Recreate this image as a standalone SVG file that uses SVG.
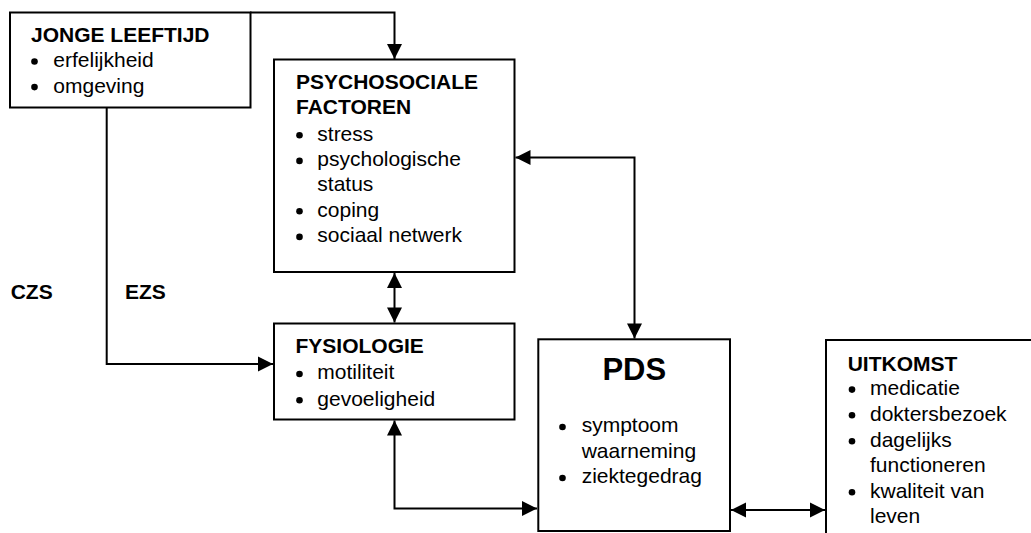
<svg xmlns="http://www.w3.org/2000/svg" width="1031" height="533" viewBox="0 0 1031 533">
<style>
.box{fill:#fff;stroke:#000;stroke-width:2}
.t{font-family:"Liberation Sans",Arial,sans-serif;font-size:21px;fill:#000}
.b{font-weight:bold}
.big{font-size:31px}
.conn{fill:none;stroke:#000;stroke-width:2}
</style>
<defs>
<marker id="ah" markerUnits="userSpaceOnUse" markerWidth="17" markerHeight="17" viewBox="0 0 17 17" refX="16" refY="8.5" orient="auto-start-reverse">
<path d="M1,1 L16,8.5 L1,16 Z" fill="#000"/>
</marker>
<circle id="dot" r="3.3" fill="#000"/>
</defs>
<rect width="1031" height="533" fill="#fff"/>
<g id="connectors">
<path class="conn" d="M250,12.5 H394.5 V59" marker-end="url(#ah)"/>
<path class="conn" d="M106.7,107 V364 H273" marker-end="url(#ah)"/>
<path class="conn" d="M394.5,273 V322.5" marker-start="url(#ah)" marker-end="url(#ah)"/>
<path class="conn" d="M394.5,420.5 V508.5 H537" marker-start="url(#ah)" marker-end="url(#ah)"/>
<path class="conn" d="M515.5,157.5 H634.5 V338.5" marker-start="url(#ah)" marker-end="url(#ah)"/>
<path class="conn" d="M731,510 H825" marker-start="url(#ah)" marker-end="url(#ah)"/>
</g>
<g id="jonge">
<rect class="box" x="10" y="12.5" width="240.5" height="95"/>
<text class="t b" x="31" y="41.7">JONGE LEEFTIJD</text>
<use href="#dot" x="34.5" y="61.5"/>
<text class="t" x="53.3" y="66.9">erfelijkheid</text>
<use href="#dot" x="34.5" y="87.1"/>
<text class="t" x="53.3" y="92.5">omgeving</text>
</g>
<g id="psycho">
<rect class="box" x="274" y="59.5" width="240.5" height="212.5"/>
<text class="t b" x="296" y="89.3">PSYCHOSOCIALE</text>
<text class="t b" x="296" y="114.3">FACTOREN</text>
<use href="#dot" x="299.5" y="135.3"/>
<text class="t" x="317.3" y="140.7">stress</text>
<use href="#dot" x="299.5" y="160.9"/>
<text class="t" x="317.3" y="166.3">psychologische</text>
<text class="t" x="317.3" y="190.9">status</text>
<use href="#dot" x="299.5" y="211.3"/>
<text class="t" x="317.3" y="216.7">coping</text>
<use href="#dot" x="299.5" y="236.9"/>
<text class="t" x="317.3" y="242.3">sociaal netwerk</text>
</g>
<text class="t b" x="10.7" y="298.6">CZS</text>
<text class="t b" x="125" y="298.6">EZS</text>
<g id="fysio">
<rect class="box" x="274" y="323.5" width="240.5" height="96"/>
<text class="t b" x="295.5" y="353.3">FYSIOLOGIE</text>
<use href="#dot" x="299.5" y="374"/>
<text class="t" x="317.3" y="379.4">motiliteit</text>
<use href="#dot" x="299.5" y="400.2"/>
<text class="t" x="317.3" y="405.6">gevoeligheid</text>
</g>
<g id="pds">
<rect class="box" x="538.3" y="339.3" width="191.7" height="191.7"/>
<text class="t b big" x="634.3" y="380" text-anchor="middle">PDS</text>
<use href="#dot" x="562.5" y="427"/>
<text class="t" x="581.7" y="432.4">symptoom</text>
<text class="t" x="581.7" y="457.8">waarneming</text>
<use href="#dot" x="562.5" y="478"/>
<text class="t" x="581.7" y="483.4">ziektegedrag</text>
</g>
<g id="uitkomst">
<rect class="box" x="826" y="340" width="220" height="220"/>
<text class="t b" x="847.7" y="370.7">UITKOMST</text>
<use href="#dot" x="852" y="389.6"/>
<text class="t" x="870" y="395">medicatie</text>
<use href="#dot" x="852" y="415.3"/>
<text class="t" x="870" y="420.7">doktersbezoek</text>
<use href="#dot" x="852" y="441.3"/>
<text class="t" x="870" y="446.7">dagelijks</text>
<text class="t" x="870" y="471.9">functioneren</text>
<use href="#dot" x="852" y="492.3"/>
<text class="t" x="870" y="497.7">kwaliteit van</text>
<text class="t" x="870" y="523.3">leven</text>
</g>
</svg>
